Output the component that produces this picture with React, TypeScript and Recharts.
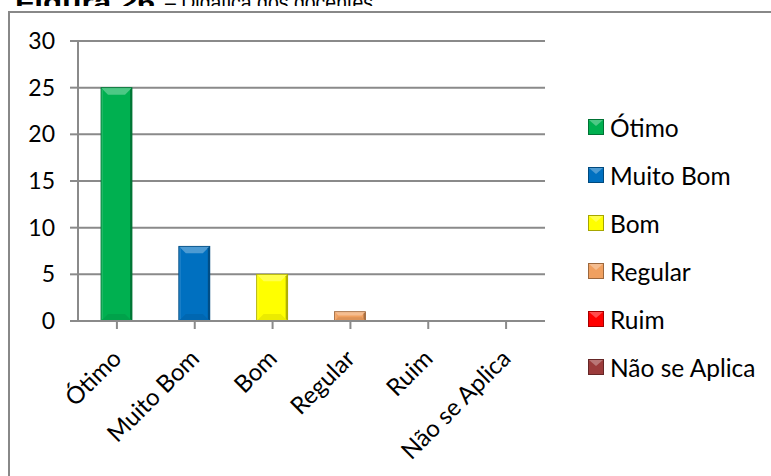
import React from 'react';
import { BarChart, Bar, XAxis, YAxis, CartesianGrid, Legend, Cell } from 'recharts';

const categories = ['Ótimo', 'Muito Bom', 'Bom', 'Regular', 'Ruim', 'Não se Aplica'];
const values = [25, 8, 5, 1, 0, 0];
const colors = ['#00B050', '#0070C0', '#FFFF00', '#F0A060', '#FF0000', '#9B3B3B'];
const yTicks = [0, 5, 10, 15, 20, 25, 30];
const titleBold = 'Figura 26';
const titleRest = '– Didática dos docentes';

const data = categories.map((name, i) => ({ name, value: values[i] }));

const FONT = 'Lato, "Open Sans", sans-serif';

function shade(hex: string, amt: number) {
  const n = parseInt(hex.slice(1), 16);
  let r = (n >> 16) & 255, g = (n >> 8) & 255, b = n & 255;
  if (amt >= 0) {
    r = Math.round(r + (255 - r) * amt);
    g = Math.round(g + (255 - g) * amt);
    b = Math.round(b + (255 - b) * amt);
  } else {
    r = Math.round(r * (1 + amt));
    g = Math.round(g * (1 + amt));
    b = Math.round(b * (1 + amt));
  }
  return `rgb(${r},${g},${b})`;
}

const BevelBar = (props: any) => {
  const { x, y, width, height, fill } = props;
  if (!height || height <= 0) return null;
  const bv = Math.min(7, height / 2.5, width / 3);
  const xr = x + width, yb = y + height;
  return (
    <g>
      <rect x={x} y={y} width={width} height={height} fill={fill} />
      <polygon points={`${x},${y} ${xr},${y} ${xr - bv},${y + bv} ${x + bv},${y + bv}`} fill={shade(fill, 0.3)} />
      <polygon points={`${x},${y} ${x + 2},${y + 2} ${x + 2},${yb - 2} ${x},${yb}`} fill={shade(fill, 0.12)} />
      <polygon points={`${xr},${y} ${xr - 2},${y + 2} ${xr - 2},${yb - 2} ${xr},${yb}`} fill={shade(fill, -0.3)} />
      <polygon points={`${x},${yb} ${xr},${yb} ${xr - bv},${yb - bv} ${x + bv},${yb - bv}`} fill={shade(fill, -0.08)} />
      <rect x={x} y={y} width={width} height={height} fill="none" stroke={shade(fill, -0.35)} strokeWidth={0.8} />
    </g>
  );
};

const XTick = (props: any) => {
  const { x, payload } = props;
  const ax = x + 6;
  const ay = 360;
  return (
    <text x={ax} y={ay} transform={`rotate(-45 ${ax} ${ay})`} textAnchor="end" fontFamily={FONT} fontSize={24} fill="#000">
      {payload.value}
    </text>
  );
};

const LegendContent = () => (
  <div style={{ fontFamily: FONT, fontSize: 24.5, color: '#000' }}>
    {categories.map((c, i) => (
      <div key={c} style={{ display: 'flex', alignItems: 'center', height: 48 }}>
        <svg width={16} height={16} style={{ marginRight: 6 }}>
          <rect x={0.5} y={0.5} width={15} height={15} fill={colors[i]} stroke={shade(colors[i], -0.35)} />
          <polygon points="1,1 15,1 8,7" fill={shade(colors[i], 0.3)} />
        </svg>
        <span>{c}</span>
      </div>
    ))}
  </div>
);

export default function App() {
  return (
    <div style={{ position: 'fixed', left: 0, top: 0, width: 771, height: 476, background: '#fff', overflow: 'hidden' }}>
      <svg width={771} height={476} style={{ position: 'absolute', left: 0, top: 0 }}>
        <text x={15} y={10} fontFamily="'Liberation Sans', Arial, sans-serif" fontWeight="bold" fontSize={22} textLength={140} lengthAdjust="spacingAndGlyphs">{titleBold}</text>
        <text x={165} y={10} fontFamily="'Liberation Sans', Arial, sans-serif" fontSize={22} textLength={208} lengthAdjust="spacingAndGlyphs">{titleRest}</text>
        <rect x={0} y={6} width={771} height={470} fill="#fff" />
        <line x1={9} y1={12} x2={771} y2={12} stroke="#888" strokeWidth={2} />
        <line x1={9} y1={11} x2={9} y2={476} stroke="#888" strokeWidth={2} />
      </svg>
      <div style={{ position: 'absolute', left: 0, top: 0 }}>
        <BarChart width={771} height={476} data={data} margin={{ top: 41, right: 226, bottom: 55, left: 18 }}>
          <CartesianGrid horizontal vertical={false} stroke="#8a8a8a" strokeWidth={2} />
          <XAxis dataKey="name" height={100} interval={0} tick={<XTick />} tickSize={8} stroke="#8a8a8a" strokeWidth={2} tickLine={{ stroke: '#8a8a8a', strokeWidth: 2 }} axisLine={{ stroke: '#8a8a8a', strokeWidth: 2 }} />
          <YAxis width={60} domain={[0, 30]} ticks={yTicks} interval={0} tickSize={8} tickMargin={15} tick={{ fontFamily: FONT, fontSize: 23, fill: '#000' }} axisLine={{ stroke: '#8a8a8a', strokeWidth: 2 }} tickLine={{ stroke: '#8a8a8a', strokeWidth: 2 }} />
          <Legend content={<LegendContent />} layout="horizontal" verticalAlign="middle" align="center" wrapperStyle={{ position: 'absolute', left: 588, top: 103, width: 180 }} />
          <Bar dataKey="value" barSize={31} shape={<BevelBar />} isAnimationActive={false}>
            {data.map((d, i) => (
              <Cell key={d.name} fill={colors[i]} />
            ))}
          </Bar>
        </BarChart>
      </div>
    </div>
  );
}
